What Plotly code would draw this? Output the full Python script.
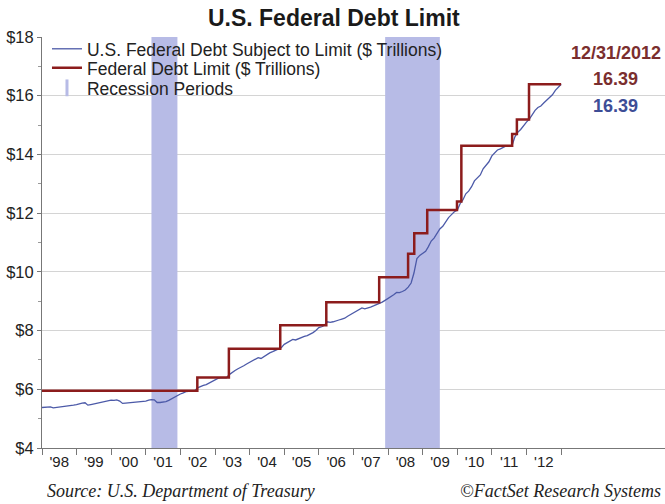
import pandas as pd
import plotly.graph_objects as go

# Month-end dates, Dec 1997 through Dec 2012
months = pd.date_range("1997-12-31", "2012-12-31", freq=pd.offsets.MonthEnd())

# Total federal debt subject to the statutory limit ($ trillions), month-end
debt_subject = [
    5.38,
    5.38, 5.39, 5.40, 5.37, 5.38, 5.40, 5.40, 5.42, 5.43, 5.44, 5.46, 5.48,   # 1998
    5.52, 5.53, 5.54, 5.46, 5.48, 5.50, 5.51, 5.53, 5.55, 5.57, 5.59, 5.63,   # 1999
    5.62, 5.64, 5.60, 5.52, 5.53, 5.54, 5.55, 5.55, 5.56, 5.57, 5.58, 5.60,   # 2000
    5.63, 5.65, 5.64, 5.55, 5.55, 5.56, 5.58, 5.62, 5.68, 5.74, 5.79, 5.84,   # 2001
    5.88, 5.92, 5.93, 5.93, 5.94, 6.05, 6.10, 6.13, 6.16, 6.22, 6.28, 6.33,   # 2002
    6.37, 6.39, 6.39, 6.39, 6.50, 6.58, 6.64, 6.70, 6.74, 6.80, 6.86, 6.92,   # 2003
    6.96, 7.02, 7.08, 7.05, 7.12, 7.20, 7.24, 7.28, 7.33, 7.37, 7.42, 7.53,   # 2004
    7.58, 7.64, 7.70, 7.68, 7.72, 7.78, 7.80, 7.83, 7.87, 7.93, 8.00, 8.10,   # 2005
    8.13, 8.18, 8.30, 8.28, 8.30, 8.34, 8.36, 8.39, 8.42, 8.49, 8.55, 8.61,   # 2006
    8.66, 8.72, 8.77, 8.74, 8.76, 8.80, 8.84, 8.88, 8.92, 8.97, 9.03, 9.09,   # 2007
    9.16, 9.22, 9.30, 9.29, 9.33, 9.38, 9.48, 9.62, 9.96, 10.45, 10.56, 10.63,  # 2008
    10.70, 10.85, 11.05, 11.15, 11.30, 11.46, 11.55, 11.70, 11.85, 11.95, 12.05, 12.10,  # 2009
    12.33, 12.45, 12.66, 12.75, 12.90, 13.10, 13.20, 13.30, 13.51, 13.62, 13.75, 13.95,  # 2010
    14.05, 14.15, 14.19, 14.25, 14.29, 14.29, 14.29, 14.60, 14.75, 14.85, 14.98, 15.10,  # 2011
    15.20, 15.35, 15.50, 15.60, 15.65, 15.75, 15.85, 15.95, 16.03, 16.18, 16.28, 16.39,  # 2012
]

# Statutory debt limit ($ trillions) and the dates each new limit took effect
limit_dates = ["1997-12-31", "2002-06-28", "2003-05-27", "2004-11-19", "2006-03-20",
               "2007-09-29", "2008-07-30", "2008-10-03", "2009-02-17", "2009-12-28",
               "2010-02-12", "2011-08-02", "2011-09-21", "2012-01-27", "2012-12-31"]
limit_values = [5.95, 6.40, 7.384, 8.184, 8.965, 9.815, 10.615, 11.315, 12.104,
                12.394, 14.294, 14.694, 15.194, 16.394, 16.394]

# NBER recessions
recession_starts = ["2001-03-01", "2007-12-01"]
recession_ends = ["2001-11-30", "2009-06-30"]

years = list(range(1998, 2013))
year_labels = ["'98", "'99", "'00", "'01", "'02", "'03", "'04", "'05", "'06",
               "'07", "'08", "'09", "'10", "'11", "'12"]
y_ticks = [4, 6, 8, 10, 12, 14, 16, 18]
y_labels = ["$4", "$6", "$8", "$10", "$12", "$14", "$16", "$18"]

RED = "#8c1c1c"
BLUE = "#4c5aa8"
BAND = "#b7bbe6"

fig = go.Figure()

for s, e in zip(recession_starts, recession_ends):
    fig.add_shape(type="rect", xref="x", yref="y", x0=s, x1=e, y0=4, y1=18,
                  fillcolor=BAND, line_width=0, layer="between")

fig.add_trace(go.Scatter(
    x=months, y=debt_subject, mode="lines",
    name="U.S. Federal Debt Subject to Limit ($ Trillions)",
    line=dict(color=BLUE, width=1.3), legend="legend",
))
fig.add_trace(go.Scatter(
    x=limit_dates, y=limit_values, mode="lines", line_shape="hv",
    name="Federal Debt Limit ($ Trillions)",
    line=dict(color=RED, width=2.5), legend="legend2",
))
# legend entry for the shaded recession bands
fig.add_trace(go.Scatter(
    x=[None], y=[None], mode="markers", name="Recession Periods",
    marker=dict(symbol="line-ns", size=12, color=BAND,
                line=dict(color=BAND, width=3)),
    legend="legend3",
))

# one legend per row so the rows sit tightly together
legend_style = dict(x=0.008, xanchor="left", yanchor="middle",
                    bgcolor="rgba(0,0,0,0)", font=dict(size=17.5, color="#222222"),
                    itemwidth=30)

fig.update_layout(
    width=665, height=504,
    margin=dict(l=42, r=0, t=37, b=56),
    paper_bgcolor="white", plot_bgcolor="white",
    font=dict(family="Arial, Liberation Sans, sans-serif", color="#222222"),
    title=dict(text="<b>U.S. Federal Debt Limit</b>", x=0.502, xanchor="center",
               y=0.965, yanchor="middle",
               font=dict(size=23, color="#1a1a1a")),
    showlegend=True,
    legend=dict(**legend_style, y=0.971),
    legend2=dict(**legend_style, y=0.925),
    legend3=dict(**legend_style, y=0.876),
    xaxis=dict(
        type="date", range=["1998-01-01", "2016-01-01"],
        tickmode="array",
        tickvals=[f"{y}-07-02" for y in years], ticktext=year_labels,
        ticks="", showgrid=False,
        tickfont=dict(size=15, color="#222222"),
        showline=True, linecolor="#777777", linewidth=1,
        minor=dict(tickmode="array",
                   tickvals=[f"{y}-01-01" for y in years + [2013]],
                   ticks="outside", ticklen=6, tickcolor="#777777", showgrid=False),
        zeroline=False,
    ),
    yaxis=dict(
        range=[4, 18], tickmode="array", tickvals=y_ticks, ticktext=y_labels,
        ticks="outside", ticklen=4, tickcolor="#777777",
        tickfont=dict(size=16.5, color="#222222"),
        showgrid=True, gridcolor="#d4d4d4", gridwidth=1,
        showline=True, linecolor="#777777", linewidth=1,
        minor=dict(dtick=1, ticks="outside", ticklen=3, tickcolor="#999999", showgrid=False),
        zeroline=False,
    ),
)

# End-of-period readout
readout = dict(xref="paper", yref="paper", x=0.921, showarrow=False,
               xanchor="center", yanchor="middle")
fig.add_annotation(**readout, y=0.962, text="<b>12/31/2012</b>",
                   font=dict(size=18, color="#7a2e2e"))
fig.add_annotation(**readout, y=0.897, text=f"<b>{limit_values[-1]:.2f}</b>",
                   font=dict(size=18, color="#7a2e2e"))
fig.add_annotation(**readout, y=0.832, text=f"<b>{debt_subject[-1]:.2f}</b>",
                   font=dict(size=18, color="#3d4d96"))

# Footer credits
serif = dict(family="Times New Roman, Liberation Serif, serif", size=18, color="#222222")
fig.add_annotation(xref="paper", yref="paper", x=0.005, y=-0.105, xanchor="left",
                   yanchor="middle", showarrow=False,
                   text="<i>Source: U.S. Department of Treasury</i>", font=serif)
fig.add_annotation(xref="paper", yref="paper", x=0.997, y=-0.105, xanchor="right",
                   yanchor="middle", showarrow=False,
                   text="<i>©FactSet Research Systems</i>", font=serif)

fig.write_html("out.html")
